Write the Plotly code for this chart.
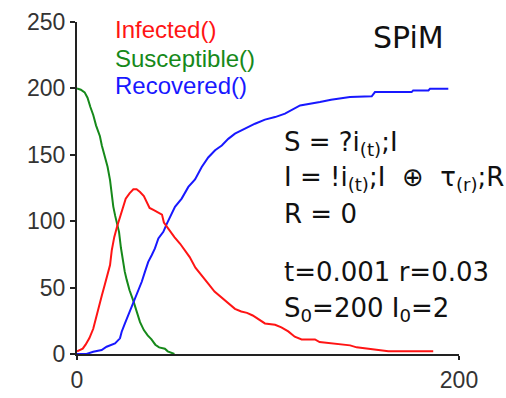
import plotly.graph_objects as go

# ---- data ----
s_time = [0, 2, 4, 5.5, 7, 8.5, 10, 11, 12, 13, 14.5, 16, 17.3, 18.2, 19, 20, 21, 22, 23, 24, 25, 26,
          27.5, 29.5, 31, 33, 35, 37, 39, 41, 43, 46, 47.5, 49, 51]
s_vals = [200, 199, 197, 193, 186, 180, 172, 168, 164, 157, 149, 141, 131, 120, 111, 104, 99, 92, 80, 70, 62, 56,
          48, 40, 33, 24, 18, 14, 11, 7, 5, 4, 2, 1, 0]

i_time = [0, 3, 4.5, 6.5, 8.5, 10, 11.5, 13, 14.5, 16, 17.3, 18.2, 19.5, 21, 22.5, 24, 25.5, 27.5, 29.5, 31.2,
          33, 35, 36.5, 38, 40, 42, 44.5, 45.5, 48.5, 51, 54, 57, 59, 62, 65, 68.7, 72, 76, 79, 82.7, 86, 89,
          92, 95, 98.4, 103.7, 107, 110.6, 114, 117.6, 124.6, 127, 133, 138, 143, 146.4, 156, 163, 186.5]
i_vals = [2, 4, 7, 12, 19, 28, 36, 44, 52, 60, 67, 78, 88, 96, 103, 111, 117, 121, 124, 124,
          122, 119, 114, 110, 108.5, 107, 105, 99, 93, 88, 83, 77, 73, 65, 60, 53, 47, 42, 38, 34, 32, 31,
          29, 26, 23, 22, 20, 17, 13, 11, 11, 9, 8, 7.5, 6.5, 5, 3, 2, 2]

r_time = [0, 5, 8.5, 12.9, 15.5, 19.9, 22.5, 23.4, 25.1, 26.9, 28.6, 30.4, 32.1, 33.9, 35.6, 37.3, 39.1, 40.8,
          42.6, 45.2, 47, 48.7, 51.3, 54.8, 58.3, 61.8, 65.3, 68.7, 72.3, 75.8, 79.2, 82.7, 88, 93.2, 98.4,
          103.7, 108.9, 113.2, 116.8, 127.2, 133, 142.9, 154.3, 156, 175.2, 176, 184, 184.8, 194.4]
r_vals = [0, 0, 1.7, 3, 5.5, 8, 11.8, 16.8, 23, 29.3, 35.6, 41.9, 48, 54.4, 62, 69.4, 74.4, 79.5,
          87, 92, 98, 103, 110.8, 117, 125.8, 131.5, 140.8, 148, 153.4, 157, 162, 165.9, 169.7, 173.4, 176.5,
          178.4, 181, 184.7, 187.2, 189.7, 191.5, 193.5, 194, 197.2, 197.2, 198.5, 198.5, 199.7, 199.7]

series_names = ["Infected()", "Susceptible()", "Recovered()"]
x_ticks = [0, 200]
y_ticks = [0, 50, 100, 150, 200, 250]

equations = ["S = ?i<sub>(t)</sub>;I",
             "I = !i<sub>(t)</sub>;I  ⊕  τ<sub>(r)</sub>;R",
             "R = 0",
             "t=0.001 r=0.03",
             "S<sub>0</sub>=200 I<sub>0</sub>=2"]
title_text = "SPiM"

# ---- layout helpers ----
W, H = 506, 398
L, R, T, B = 77, 47, 22, 44
pw, ph = W - L - R, H - T - B


def px(x):
    return (x - L) / pw


def py(y):
    return (H - B - y) / ph


RED, GREEN, BLUE = "#ff1414", "#16891a", "#1818ff"

fig = go.Figure()
fig.add_trace(go.Scatter(x=s_time, y=s_vals, mode="lines", line=dict(color=GREEN, width=2), name=series_names[1]))
fig.add_trace(go.Scatter(x=r_time, y=r_vals, mode="lines", line=dict(color=BLUE, width=2), name=series_names[2]))
fig.add_trace(go.Scatter(x=i_time, y=i_vals, mode="lines", line=dict(color=RED, width=2), name=series_names[0]))

annotations = []
legend_font = "Liberation Sans"
for name, col, yy in zip(series_names, [RED, GREEN, BLUE], [29.5, 58, 86]):
    annotations.append(dict(text=name, x=px(113), y=py(yy), xref="paper", yref="paper",
                            xanchor="left", yanchor="middle", showarrow=False,
                            font=dict(family=legend_font, size=24, color=col)))

annotations.append(dict(text=title_text, x=px(408.5), y=py(37), xref="paper", yref="paper",
                        xanchor="center", yanchor="middle", showarrow=False,
                        font=dict(family="DejaVu Sans", size=30, color="#111")))
for txt, yy in zip(equations, [143, 178, 214, 272, 309]):
    annotations.append(dict(text=txt, x=px(282), y=py(yy), xref="paper", yref="paper",
                            xanchor="left", yanchor="middle", showarrow=False,
                            font=dict(family="DejaVu Sans", size=26, color="#111")))

axis_common = dict(showgrid=False, zeroline=False, showline=True, linecolor="#222", linewidth=2,
                   ticks="outside", tickcolor="#222", tickwidth=2, automargin=False,
                   tickfont=dict(family=legend_font, size=23, color="#333"))

fig.update_layout(
    width=W, height=H,
    margin=dict(l=L, r=R, t=T, b=B, pad=0),
    paper_bgcolor="white", plot_bgcolor="white",
    showlegend=False,
    annotations=annotations,
    xaxis=dict(range=[0, 200], tickvals=x_ticks, ticklen=4, **axis_common),
    yaxis=dict(range=[0, 250], tickvals=y_ticks, ticklen=5, **axis_common),
)

fig.write_html("out.html")
